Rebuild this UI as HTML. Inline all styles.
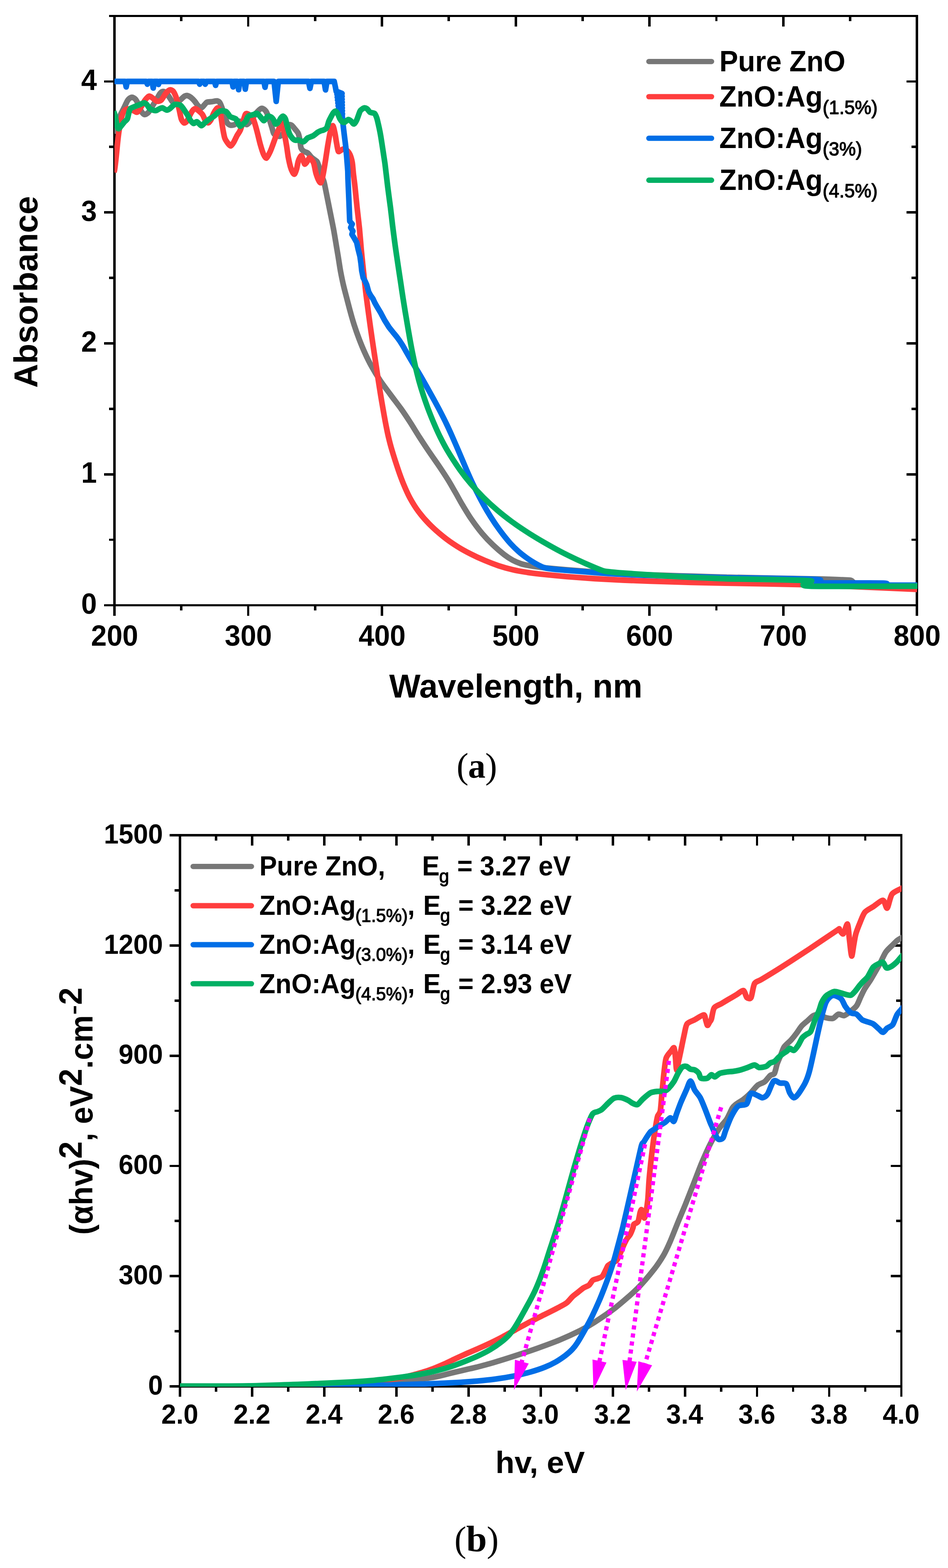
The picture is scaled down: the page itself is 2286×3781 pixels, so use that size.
<!DOCTYPE html>
<html lang="en">
<head>
<meta charset="utf-8">
<title>UV-Vis absorbance and Tauc plots of pure ZnO and ZnO:Ag</title>
<style>
html,body{margin:0;padding:0;background:#ffffff;}
body{width:2286px;height:3781px;overflow:hidden;}
svg{display:block;}
text{white-space:pre;}
</style>
</head>
<body>
<svg width="2286" height="3781" viewBox="0 0 2286 3781" role="img" aria-label="UV-Vis absorbance spectra and Tauc plots">
<rect width="2286" height="3781" fill="#ffffff"/>
<g id="chart-a">
<path d="M276 38.5H2211.2V1459.4H276ZM276 1459.4v25.3M276 38.5v25.3M598.5 1459.4v25.3M598.5 38.5v25.3M921.1 1459.4v25.3M921.1 38.5v25.3M1243.6 1459.4v25.3M1243.6 38.5v25.3M1566.1 1459.4v25.3M1566.1 38.5v25.3M1888.7 1459.4v25.3M1888.7 38.5v25.3M2211.2 1459.4v25.3M2211.2 38.5v25.3M437.3 1459.4v12.8M437.3 38.5v12.8M759.8 1459.4v12.8M759.8 38.5v12.8M1082.3 1459.4v12.8M1082.3 38.5v12.8M1404.9 1459.4v12.8M1404.9 38.5v12.8M1727.4 1459.4v12.8M1727.4 38.5v12.8M2049.9 1459.4v12.8M2049.9 38.5v12.8M276 1459.4h-25.3M2211.2 1459.4h-25.3M276 1143.6h-25.3M2211.2 1143.6h-25.3M276 827.9h-25.3M2211.2 827.9h-25.3M276 512.1h-25.3M2211.2 512.1h-25.3M276 196.4h-25.3M2211.2 196.4h-25.3M276 1301.5h-12.8M2211.2 1301.5h-12.8M276 985.8h-12.8M2211.2 985.8h-12.8M276 670h-12.8M2211.2 670h-12.8M276 354.3h-12.8M2211.2 354.3h-12.8M276 38.5h-12.8M2211.2 38.5h-12.8" fill="none" stroke="#000" stroke-width="5.8" stroke-linecap="butt" stroke-linejoin="miter" shape-rendering="crispEdges"/>
<clipPath id="clipA"><rect x="276" y="38.5" width="1936.2" height="1422.4"/></clipPath>
<g clip-path="url(#clipA)" fill="none" stroke-width="13.6" stroke-linejoin="round" stroke-linecap="butt">
<path d="M274.8 321.8C275.7 318.9 279.5 306.1 281.5 300.3C283.4 294.6 287 284.6 289.5 278.9C292 273.1 297.8 262.4 300.3 257.4C302.8 252.4 306 244.3 308.3 241.3C310.6 238.2 315.2 234.7 317.7 234.6C320.2 234.4 324.8 237.2 327.1 239.9C329.4 242.6 333.4 250.9 335.2 254.7C337 258.5 338.7 265.3 340.5 268.1C342.3 271 346.3 275.8 348.6 276.2C350.9 276.5 355.5 273.5 358 270.8C360.5 268.1 364.7 260.3 367.4 256C370.1 251.7 375.6 242.7 378.1 238.6C380.6 234.5 384.2 227.6 386.2 225.2C388.1 222.8 390.9 220.8 392.9 220.6C394.9 220.4 399 222.1 400.9 223.8C402.9 225.5 405.7 230.4 407.7 233.2C409.6 236.1 413.6 243.2 415.7 245.3C417.9 247.4 421.3 249.9 423.8 249.3C426.3 248.8 431.6 243.6 434.5 241.3C437.4 238.9 442.9 233.3 445.2 231.9C447.6 230.4 450 230.2 451.9 230.5C453.9 230.9 457.7 232.8 460 234.6C462.3 236.4 467.1 241.3 469.4 244C471.7 246.6 475.3 252.6 477.4 254.7C479.6 256.8 483.4 260.4 485.5 260.1C487.7 259.7 491.8 253.8 493.6 252C495.3 250.2 496.8 247.5 498.9 246.6C501.1 245.7 506.3 245.7 509.7 245.3C513.1 244.9 521.6 242.9 524.4 243.4C527.3 244 529.2 245.7 531.1 249.3C533.1 253 537 264.7 539.2 270.8C541.3 276.9 545.1 290.9 547.2 295C549.4 299.1 552.8 301 555.3 301.7C557.8 302.4 563.2 301.6 566 300.3C568.9 299.1 573.9 292.8 576.8 292.3C579.6 291.7 585 295.2 587.5 296.3C590 297.4 593.1 301.2 595.6 300.3C598.1 299.4 603.4 293.2 606.3 289.6C609.2 286 613.8 277.2 617 273.5C620.3 269.7 627.2 262.1 630.5 261.4C633.7 260.7 638.7 264.7 641.2 268.1C643.7 271.5 647.3 281.5 649.3 286.9C651.2 292.3 654.5 303.7 656 308.4C657.4 313 658.6 319.3 660 321.8C661.4 324.3 664.9 326.3 666.8 327.2C668.8 328.1 672.8 329.2 674.9 328.5C677 327.8 680.8 324.3 683 321.8C685.1 319.3 689 312.5 691 309.7C693 306.9 695.9 301.8 697.7 300.9C699.5 300 702.6 301.7 704.4 303C706.2 304.4 709.2 308.6 711.1 311.1C713.1 313.6 717.6 318.2 719.2 321.8C720.8 325.4 722.3 333.3 723.2 337.9C724.1 342.6 724.7 353.1 725.9 356.7C727.2 360.3 730.5 363.2 732.6 364.8C734.8 366.4 739.7 367 742 368.8C744.3 370.6 747.9 376 750.1 378.2C752.2 380.3 756.2 383.3 758.1 384.9C760.1 386.5 763.2 387.6 764.8 390.3C766.4 393 768.8 400.6 770.2 405C771.6 409.5 774.1 419.5 775.6 423.8C777 428.1 779.8 433.7 780.9 437.2C782 440.8 782.6 444.1 783.9 450.3C785.2 456.6 788.8 474.9 790.6 483.9C792.4 492.8 795.5 508.5 797.3 517.4C799.1 526.4 802.4 542.5 804 551C805.6 559.5 807.7 572.2 809.2 581.2C810.7 590.1 813.7 608.4 815.4 618.2C817 628 819.6 645.6 821.3 654.9C823.1 664.3 826.2 679.4 828.3 688.4C830.4 697.4 834.8 713.8 837 722.3C839.2 730.8 842.6 744 844.9 752.2C847.1 760.4 851.3 774.8 854 783.4C856.8 792.1 862.4 808.1 865.8 817C869.2 825.9 875.5 841.4 879.6 850.4C883.6 859.3 891.3 875 896.3 883.9C901.2 892.8 910.6 908.2 916.6 917.2C922.6 926.2 934.5 942 941.2 951.1C947.9 960.2 960.5 976.5 967 985.5C973.4 994.5 983.6 1009.8 989.3 1018.6C995 1027.5 1004.3 1042.9 1010 1051.8C1015.7 1060.7 1025.2 1075.3 1032 1085.3C1038.7 1095.3 1054.3 1117.4 1060.8 1127C1067.3 1136.7 1075.6 1149.4 1080.6 1157.4C1085.6 1165.4 1093.4 1179.3 1098 1187.2C1102.6 1195.2 1110 1208.9 1115 1217.3C1120.1 1225.7 1129.3 1241.2 1135.7 1250.5C1142.1 1259.8 1155.9 1278.4 1163 1286.9C1170.1 1295.4 1181.9 1307.6 1189 1314.3C1196.1 1321.1 1209.7 1332.7 1216 1337.5C1222.3 1342.4 1230.8 1347.8 1236.1 1350.7C1241.4 1353.6 1250.7 1357.4 1256 1359.2C1261.3 1360.9 1269.7 1362.7 1275.9 1363.8C1282.2 1365 1297.2 1367 1302.6 1367.7C1308.1 1368.5 1308.2 1368.6 1316.8 1369.4C1325.4 1370.3 1351.5 1372.7 1367.1 1374C1382.8 1375.3 1420.7 1378.2 1434.2 1379.3C1447.6 1380.3 1454.4 1381 1467.9 1381.8C1481.3 1382.6 1517 1384.5 1534.9 1385.2C1552.8 1385.9 1584.1 1386.8 1602 1387.4C1619.9 1387.9 1649.4 1388.8 1669.1 1389.4C1688.8 1390 1739.1 1391.5 1749.9 1391.8C1760.7 1392.2 1720.9 1391.4 1750 1391.9C1779.1 1392.5 1931 1395.2 1968.1 1396C2005.3 1396.8 2017.3 1397.5 2028.5 1398C2039.7 1398.4 2047.1 1398.2 2052 1399.3C2056.9 1400.5 2055.1 1405.6 2065.4 1406.7C2075.7 1407.8 2119.4 1406.8 2129.2 1407.4C2139 1408 2127.2 1410.8 2139.3 1411.4C2151.4 1412 2209.2 1411.7 2220 1411.7" stroke="#777777"/>
<path d="M274.8 415.8C275 414.7 275.9 412.7 276.6 407.7C277.4 402.7 279.1 387.5 280.1 378.2C281.1 368.9 283.1 347.2 284.2 337.9C285.2 328.6 286.9 315.9 288.2 308.4C289.4 300.9 292.1 286.9 293.6 281.5C295 276.2 297.1 270.6 298.9 268.1C300.7 265.6 304.7 263.3 307 262.8C309.3 262.2 314 263.4 316.4 264.1C318.7 264.8 322.5 267.3 324.4 268.1C326.4 268.9 329 271.7 331.1 270.3C333.3 268.8 338 261.2 340.5 257.4C343 253.5 347.4 244.7 349.9 241.3C352.4 237.9 357 232.6 359.3 231.9C361.7 231.2 364.9 234.3 367.4 235.9C369.9 237.5 375.3 243.2 378.1 244C381 244.7 386 243.8 388.9 241.3C391.7 238.8 397.3 228.2 399.6 225.2C401.9 222.1 404.7 219.6 406.3 218.5C407.9 217.3 410.1 216.2 411.7 216.6C413.3 216.9 416.6 218.6 418.4 221.1C420.2 223.7 423.3 230.4 425.1 235.9C426.9 241.5 430.2 256 431.8 262.8C433.4 269.6 435.6 282.4 437.2 286.9C438.8 291.4 442.1 295.6 443.9 296.3C445.7 297 448.6 295 450.6 292.3C452.6 289.6 456.7 279.8 458.7 276.2C460.6 272.6 463.6 267.3 465.4 265.4C467.2 263.6 470.1 261.9 472.1 262.2C474 262.6 478 266.3 480.1 268.1C482.3 270 486.2 273.3 488.2 276.2C490.2 279 493.1 286.9 494.9 289.6C496.7 292.3 499.8 296.3 501.6 296.3C503.4 296.3 506.5 292.6 508.3 289.6C510.1 286.6 513.2 277.1 515 273.5C516.8 269.9 520.3 264.5 521.7 262.8C523.2 261 524.5 259.5 525.8 260.6C527 261.7 529.7 264.8 531.1 270.8C532.6 276.8 535.1 297.5 536.5 305.7C537.9 313.9 540.1 327.2 541.9 332.6C543.7 337.9 548 343.4 549.9 346C551.9 348.6 554.9 352.2 556.6 351.9C558.4 351.5 561.4 346.6 563.4 343.3C565.3 340 569.3 331.1 571.4 327.2C573.6 323.2 577.5 318.4 579.5 313.8C581.4 309.1 584.6 297.3 586.2 292.3C587.8 287.3 590.3 278.6 591.5 276.2C592.8 273.7 594 273.7 595.6 274C597.2 274.4 601.5 276.8 603.6 278.9C605.8 280.9 609.5 284.6 611.7 289.6C613.8 294.6 617.6 308.6 619.7 316.4C621.9 324.3 625.6 341.1 627.8 348.7C629.9 356.2 633.9 368.5 635.8 372.8C637.8 377.2 640.6 382.1 642.6 381.4C644.5 380.7 648.9 371.1 650.7 367.4C652.5 363.8 654 359.8 656.1 354C658.3 348.3 664.3 330.9 666.8 324.5C669.4 318.1 673.1 309.5 674.9 305.7C676.7 301.9 678.8 294.2 680.3 296.3C681.7 298.5 684.2 314.5 685.6 321.8C687.1 329.1 689.8 343.8 691 351.3C692.3 358.9 693.8 371.4 695 378.2C696.3 385 699 397.3 700.4 402.3C701.8 407.4 704.4 413.4 705.8 415.8C707.1 418.1 709.1 420.9 710.3 419.8C711.6 418.7 714 411.8 715.2 407.7C716.3 403.6 718.1 392.7 719.2 388.9C720.3 385.2 722.1 381.3 723.2 379.5C724.3 377.7 726.2 374.6 727.2 375.5C728.3 376.4 730.3 383.6 731.3 386.2C732.2 388.9 733.4 394.9 734.5 395.6C735.6 396.4 737.8 393.6 739.3 391.6C740.9 389.6 744.4 381.8 746 380.9C747.7 380 750 383.1 751.4 384.9C752.8 386.7 755.3 389.8 756.8 394.3C758.2 398.8 760.5 412.9 762.1 418.5C763.8 424 767.2 433 768.9 435.9C770.5 438.8 772.8 442.3 774.2 439.9C775.7 437.6 778.2 425.6 779.6 418.5C781 411.3 783.5 395.2 785 386.2C786.4 377.3 788.9 359.9 790.3 351.3C791.8 342.8 794.1 328.3 795.7 321.8C797.3 315.4 800.8 303 802.4 303C804 303 806.5 316.1 807.8 321.8C809 327.5 810.7 340.2 811.8 346C812.9 351.7 814.4 362.6 815.8 364.8C817.3 366.9 820.9 362.8 822.6 362.1C824.2 361.4 826.1 359.4 827.9 359.4C829.7 359.4 833.8 360.3 836 362.1C838.1 363.9 842.2 368.9 844 372.8C845.8 376.8 848.3 385.5 849.4 391.6C850.5 397.7 851.2 410.6 852.1 418.5C853 426.3 854.8 439.4 856 450.3C857.2 461.3 859.6 487.2 861.1 500.7C862.5 514.1 865.4 537.6 866.8 551C868.1 564.4 869.9 587.9 871.1 601.3C872.4 614.8 874.8 638.3 876.2 651.7C877.6 665.1 880.4 690.8 881.7 702C883 713.1 884.6 724.7 886 735.6C887.4 746.5 891 772.7 892.5 783.5C894 794.4 896 808.2 897.3 817.1C898.6 826.1 901 841.7 902.3 850.7C903.7 859.6 906 875.3 907.4 884.2C908.7 893.2 911 908.8 912.4 917.8C913.8 926.7 916.2 942.4 917.7 951.3C919.2 960.3 921.8 976 923.4 984.9C925 993.9 927.7 1009.5 929.4 1018.4C931.2 1027.3 934.2 1043 936.3 1051.9C938.4 1060.8 941.8 1074.5 945.1 1085.3C948.3 1096.2 956.8 1122.6 960.5 1133.5C964.2 1144.4 969.2 1157.9 972.9 1166.8C976.6 1175.7 983.4 1191.3 988.2 1200.2C993 1209 1002.6 1224.7 1008.9 1233.1C1015.1 1241.6 1027.1 1255.5 1035.1 1263.6C1043 1271.7 1059.7 1286.5 1068.6 1293.6C1077.5 1300.8 1093 1311.6 1101.9 1317.2C1110.8 1322.9 1126.3 1331.4 1135.2 1335.9C1144.1 1340.5 1159.7 1347.6 1168.6 1351.3C1177.6 1355.1 1193.4 1361.2 1202.3 1364.2C1211.3 1367.2 1226.9 1371.5 1235.8 1373.6C1244.7 1375.7 1260.2 1378.5 1269.2 1379.9C1278.1 1381.3 1289.7 1382.8 1302.7 1384.2C1315.8 1385.6 1349.6 1388.9 1367.1 1390.4C1384.7 1391.9 1416.4 1394.2 1434.3 1395.4C1452.1 1396.5 1483.5 1398.1 1501.4 1398.9C1519.2 1399.7 1550.6 1400.8 1568.5 1401.4C1586.4 1402 1617.7 1403 1635.6 1403.5C1653.5 1404 1687.4 1404.9 1702.7 1405.2C1717.9 1405.6 1717.7 1405.5 1750 1406.1C1782.3 1406.7 1906.1 1409 1944.6 1410C1983.1 1411 2003 1412.3 2038.6 1413.8C2074.2 1415.2 2188.4 1420.2 2211.4 1421.1" stroke="#ff3e3e"/>
<path d="M270.7 196.4L301.6 196.4L304.3 209.6L307 196.4L352.6 196.4L355.3 202.9L358 196.4L366.8 196.4L369.5 212.3L372.2 196.4L379.5 196.4L382.1 203.7L384.8 196.4L478.8 196.4L481.5 202.9L484.2 196.4L492.2 196.4L494.9 202.9L497.6 196.4L517.2 196.4L519.9 205.8L522.6 196.4L559.3 196.4L562 209.6L564.7 196.4L572.8 196.4L575.4 216.3L578.1 196.4L588.9 196.4L591.5 215L594.2 196.4L636.4 196.4L639.1 210.4L641.7 196.4L660.9 196.4L666 244.5L671.1 196.4L743.9 196.4L747.4 213.1L750.9 196.4L781.5 196.4L785 216.8L788.5 196.4L805.9 196.4L808.6 209.1L810.7 220.3L811.8 220.3L824.8 225.4L812.6 227.3L824.9 232.4L813.3 234.3L825 239.4L814 241.3L825.2 246.4L814.8 248.3L825.3 253.4L815.5 255.2L825.4 260.3L816.2 262.2L825.6 267.3L817 269.2L825.7 274.3L825.2 278.9L826.8 295L828.5 311.1L831.1 332.6L833.8 354L836 378.2L838.7 413.1L839.1 431.2L841.3 482.3L843 524.9L843.4 533.5L849.3 540.3L845.6 548.8L851 557.3L848.6 565L855.3 576.1L860.1 584.6L863.8 601.7L868.1 618.7L870.5 635.8L872.3 652.8L875.8 669.9L880.5 678.4L884.3 686.9L889.1 704L893.7 712.5L899.6 721L903.5 729.5L908.2 738.1L918.4 755.1L927.4 772.2L937.7 788.5C940.4 792.3 944.6 797.3 947.3 800.7C949.9 804 954.8 809.6 957.8 813.7C960.9 817.7 967.1 826.8 969.9 831.3C972.7 835.7 975.5 841.1 978.8 846.9C982.1 852.6 990.3 866.9 994.6 874.2C998.9 881.4 1006.6 893.6 1011 901.2C1015.5 908.8 1023.7 923.2 1028.2 931.2C1032.7 939.2 1040.5 953.3 1045 961.4C1049.4 969.5 1057.2 983.7 1061.4 991.8C1065.6 999.9 1072.7 1013.9 1076.5 1022C1080.4 1030 1086.5 1043.5 1090.3 1052C1094.1 1060.5 1100.3 1074.9 1105 1085.7C1109.7 1096.6 1120.5 1122.6 1125.2 1133.4C1129.9 1144.2 1136 1158 1140.3 1167C1144.5 1175.9 1152.6 1192 1157.1 1200.5C1161.5 1209 1169.1 1222.7 1173.8 1230.7C1178.5 1238.7 1187.5 1253 1192.6 1260.6C1197.7 1268.2 1207.1 1281.2 1212.2 1287.9C1217.3 1294.5 1225.7 1304.9 1230.8 1310.5C1235.9 1316.1 1245.2 1325.2 1250.5 1329.9C1255.8 1334.6 1265.4 1341.9 1270.8 1345.7C1276.1 1349.5 1285.7 1355.5 1290.5 1358.3C1295.4 1361.1 1303.6 1365.3 1307.2 1366.9C1310.9 1368.5 1312.4 1369.3 1318.2 1370.2C1324 1371.1 1341.1 1373.1 1350.8 1374C1360.5 1374.9 1380.4 1376.4 1391.1 1377.2C1401.8 1378.1 1421 1379.7 1431.3 1380.5C1441.5 1381.3 1454 1382.4 1467.8 1383.2C1481.7 1384 1517 1385.8 1534.9 1386.5C1552.8 1387.3 1584.1 1388.2 1602 1388.7C1619.9 1389.3 1649.4 1390.1 1669.1 1390.7C1688.9 1391.3 1739.2 1392.7 1749.9 1393C1760.7 1393.3 1720.9 1392.4 1750 1393C1779.1 1393.5 1938.1 1395.3 1968.1 1397C1998.1 1398.6 1953.4 1404.2 1974.8 1405.4C1996.3 1406.6 2107.3 1405.3 2129.2 1406C2151.1 1406.8 2128.3 1410.1 2139.3 1410.7C2150.2 1411.4 2201.8 1411 2211.4 1411.1" stroke="#006ee6"/>
<path d="M274 268.1C274.3 269.1 275.9 272.6 276.6 275.6C277.4 278.7 279 286.9 279.9 290.9C280.7 294.9 282.2 303.1 283.1 305.7C283.9 308.3 285.1 310.6 286.3 310.3C287.5 310 290.4 305.8 292.2 303.6C294.1 301.3 298.3 295.8 300.3 293.6C302.2 291.4 305.5 290 307 286.9C308.4 283.9 309.9 274.2 311 270.8C312.1 267.4 312.9 263.4 315 261.4C317.2 259.4 324.1 257.3 327.1 256C330.2 254.8 335.2 253.1 337.9 252C340.5 250.9 345.1 248 347.2 248C349.4 248 352 250 354 252C355.9 254 359.1 260.8 362 262.8C364.9 264.7 372.6 266.8 375.4 266.8C378.3 266.8 381.3 263.6 383.5 262.8C385.6 261.9 389 259.7 391.5 260.1C394 260.4 399.8 265.3 402.3 265.4C404.8 265.6 407.8 263.2 410.3 261.4C412.8 259.6 417.9 253.1 421.1 252C424.3 250.9 431.6 251.9 434.5 253.4C437.4 254.8 440.8 260.4 442.6 262.8C444.3 265.1 446.3 268.3 447.9 270.8C449.5 273.3 453.2 279 454.6 281.5C456.1 284 457 287.4 458.7 289.6C460.3 291.7 464.6 297.1 466.7 297.7C468.9 298.2 472.3 292.9 474.8 293.6C477.3 294.3 483 302.7 485.5 303C488 303.4 491.4 298.1 493.6 296.3C495.7 294.5 499.5 291.2 501.6 289.6C503.8 288 507.5 285.7 509.7 284.2C511.8 282.8 515.7 280.5 517.7 278.9C519.7 277.2 522.6 273.7 524.4 272.1C526.2 270.6 528.5 268 531.1 267.6C533.8 267.1 541.9 267.5 544.6 268.7C547.2 269.8 549.8 274.5 551.3 276.2C552.7 277.9 553 280.1 555.3 281.5C557.6 283 566.2 284.9 568.7 286.9C571.2 288.9 572.7 294 574.1 296.3C575.5 298.6 577.7 304.2 579.5 304.4C581.3 304.5 585.7 299.3 587.5 297.7C589.3 296 591.6 294.3 592.9 292.3C594.1 290.3 595.8 284.7 596.9 282.9C598 281.1 599 279.8 600.9 278.9C602.9 278 609.2 276.9 611.7 276.2C614.2 275.5 617.6 272.8 619.7 273.5C621.9 274.2 625.6 279.2 627.8 281.5C629.9 283.9 634 290.4 635.8 290.9C637.6 291.5 639.8 287 641.2 285.6C642.6 284.1 644.8 280.6 646.6 280.2C648.4 279.8 652.8 281.6 654.6 282.9C656.4 284.1 658.7 287.4 660 289.6C661.3 291.7 662.7 298.3 664.2 299C665.6 299.7 669.1 296.9 670.9 295C672.7 293 676 286.2 677.6 284.2C679.2 282.3 681.5 279.8 683 280.2C684.4 280.6 687.1 283.9 688.3 286.9C689.6 290 691.1 298.4 692.3 303C693.6 307.7 696.1 317.9 697.7 321.8C699.3 325.7 702.6 330.4 704.4 332.6C706.2 334.7 709 337.2 711.1 337.9C713.3 338.6 717.9 337.4 720.5 337.9C723.2 338.5 728.9 342.1 731.3 341.9C733.6 341.8 736.6 337.8 738 336.6C739.4 335.3 739.7 333.8 742 332.6C744.3 331.3 752.2 329 755.4 327.2C758.7 325.4 763.7 320.7 766.2 319.1C768.7 317.5 772.4 315.8 774.2 315.1C776 314.4 777.8 314.7 779.6 313.8C781.4 312.9 785.9 311.3 787.7 308.4C789.4 305.5 791.6 295.9 793 292.3C794.5 288.7 797 284.2 798.4 281.5C799.8 278.9 802.3 273.9 803.8 272.1C805.2 270.4 807.7 267.8 809.1 268.1C810.6 268.5 813.1 272.3 814.5 274.8C815.9 277.3 818.4 284.4 819.9 286.9C821.3 289.4 823.8 292.6 825.2 293.6C826.7 294.7 828.6 295.7 830.6 295C832.6 294.3 837.9 288.6 840 288.3C842.1 287.9 844.9 290.9 846.7 292.3C848.5 293.7 851.6 299.4 853.4 299C855.2 298.6 858.2 293.7 860.1 289.6C862.1 285.5 866.4 271.7 868.2 268.1C870 264.5 872.1 263.8 873.6 262.8C875 261.7 877.3 260.1 878.9 260.1C880.5 260.1 883.8 261.3 885.6 262.8C887.4 264.2 890 269.4 892.3 270.8C894.7 272.2 900.9 271.7 903.1 273.5C905.2 275.3 907.2 280.6 908.5 284.2C909.7 287.8 911.4 295.7 912.5 300.3C913.6 305 915.4 313.4 916.5 319.1C917.6 324.9 919.5 336.5 920.5 343.3C921.6 350.1 923.5 363 924.6 370.1C925.6 377.3 927.2 386.3 928.6 397C930 407.7 933.2 436.5 934.9 450.3C936.6 464.2 940 488.1 941.6 500.7C943.2 513.2 945.4 533.1 946.7 544.3C948.1 555.5 950.6 574.7 951.9 584.5C953.2 594.4 955.4 609.2 956.7 618.1C958 627.1 960.4 642.7 961.7 651.7C963.1 660.6 965.4 676.3 966.8 685.2C968.1 694.2 970.4 709.9 971.8 718.8C973.2 727.7 975.8 743.6 977.2 752.3C978.6 760.9 981.1 775 982.5 783.6C984 792.2 986.7 808.1 988.3 817C989.9 826 992.8 841.7 994.6 850.7C996.4 859.6 999.7 875.2 1001.7 884.1C1003.8 893.1 1007.7 908.7 1010.1 917.7C1012.6 926.6 1017.3 942.3 1020.2 951.2C1023.1 960.2 1028.6 975.8 1031.9 984.8C1035.3 993.7 1041.5 1009.4 1045.3 1018.3C1049.1 1027.3 1056.1 1043 1060.4 1051.9C1064.8 1060.7 1071.5 1074.1 1078 1084.9C1084.4 1095.7 1101.4 1121.9 1109 1132.9C1116.7 1143.8 1127.8 1157.8 1135.4 1166.7C1143 1175.6 1157.4 1191.3 1165.9 1199.8C1174.4 1208.3 1190.1 1222.7 1199.1 1230.3C1208.1 1238 1223.9 1250.4 1233.4 1257.4C1243 1264.4 1260.5 1276.3 1270.7 1282.9C1281 1289.6 1299.8 1300.9 1310.5 1307.2C1321.3 1313.4 1340.5 1324.2 1351.3 1329.8C1362 1335.4 1380.5 1344.4 1391.2 1349.4C1401.8 1354.4 1423.3 1363.9 1431.4 1367.3C1439.5 1370.8 1448.1 1374.1 1452.1 1375.6C1456.2 1377 1456.8 1377.2 1462.1 1377.9C1467.4 1378.6 1482.7 1380.1 1491.7 1380.9C1500.8 1381.6 1515.3 1382.7 1530 1383.7C1544.7 1384.8 1583.5 1387.5 1602 1388.6C1620.6 1389.8 1651.2 1391.4 1669.1 1392.2C1687 1393.1 1725.5 1394.6 1736.2 1395.1C1747 1395.5 1722.2 1395 1750 1395.6C1777.8 1396.2 1918.1 1398.5 1944.6 1399.7C1971.1 1400.8 1947.5 1402.2 1948.7 1404C1949.8 1405.9 1918 1412.2 1953 1413.4C1988.1 1414.7 2175.8 1413.4 2211.4 1413.4C2247 1413.4 2218.7 1413.4 2219.8 1413.4" stroke="#00b064"/>
</g>
<g font-family='"Liberation Sans", Arial, Helvetica, sans-serif' font-weight="bold" font-size="68" fill="#000">
<g text-anchor="middle">
<text x="276.3" y="1557.3" transform="matrix(1 0 0 1.04 0 -62.292)">200</text>
<text x="598.8" y="1557.3" transform="matrix(1 0 0 1.04 0 -62.292)">300</text>
<text x="921.4" y="1557.3" transform="matrix(1 0 0 1.04 0 -62.292)">400</text>
<text x="1243.9" y="1557.3" transform="matrix(1 0 0 1.04 0 -62.292)">500</text>
<text x="1566.4" y="1557.3" transform="matrix(1 0 0 1.04 0 -62.292)">600</text>
<text x="1889" y="1557.3" transform="matrix(1 0 0 1.04 0 -62.292)">700</text>
<text x="2211.5" y="1557.3" transform="matrix(1 0 0 1.04 0 -62.292)">800</text>
</g><g text-anchor="end">
<text x="233.5" y="1480" transform="matrix(1 0 0 1.04 0 -59.2)">0</text>
<text x="233.5" y="1164.2" transform="matrix(1 0 0 1.04 0 -46.5698)">1</text>
<text x="233.5" y="848.5" transform="matrix(1 0 0 1.04 0 -33.9396)">2</text>
<text x="233.5" y="532.7" transform="matrix(1 0 0 1.04 0 -21.3093)">3</text>
<text x="233.5" y="217" transform="matrix(1 0 0 1.04 0 -8.6791)">4</text>
</g></g>
<text x="1243.8" y="1682.3" text-anchor="middle" font-family='"Liberation Sans", Arial, Helvetica, sans-serif' font-weight="bold" font-size="80">Wavelength, nm</text>
<text transform="translate(89.5 704) rotate(-90)" text-anchor="middle" font-family='"Liberation Sans", Arial, Helvetica, sans-serif' font-weight="bold" font-size="80">Absorbance</text>
<g fill="none" stroke-width="12.8" stroke-linecap="round">
<path d="M1564.7 148.3H1715.8" stroke="#777777"/>
<path d="M1564.7 233.1H1715.8" stroke="#ff3e3e"/>
<path d="M1564.7 333.4H1715.8" stroke="#006ee6"/>
<path d="M1564.7 434.5H1715.8" stroke="#00b064"/>
</g>
<g font-family='"Liberation Sans", Arial, Helvetica, sans-serif' font-weight="bold" font-size="68" fill="#000">
<text x="1734.8" y="172.1" font-size="67.5" transform="matrix(1 0 0 1.04 0 -6.884)">Pure ZnO</text>
<text x="1734.6" y="257.2" transform="matrix(1 0 0 1.04 0 -10.288)">ZnO:Ag<tspan font-size="45" font-weight="normal" stroke="#000" stroke-width="1.5" stroke-linejoin="round" dy="17.6">(1.5%)</tspan></text>
<text x="1734.6" y="357" transform="matrix(1 0 0 1.04 0 -14.28)">ZnO:Ag<tspan font-size="45" font-weight="normal" stroke="#000" stroke-width="1.5" stroke-linejoin="round" dy="17.6">(3%)</tspan></text>
<text x="1734.6" y="457.6" transform="matrix(1 0 0 1.04 0 -18.304)">ZnO:Ag<tspan font-size="45" font-weight="normal" stroke="#000" stroke-width="1.5" stroke-linejoin="round" dy="17.6">(4.5%)</tspan></text>
</g>
</g>
<g font-family='"Liberation Serif", "Times New Roman", serif' fill="#000"><text y="1875.6" font-size="86.3"><tspan x="1100.9">(</tspan><tspan x="1128.8" dy="-0.8" font-size="84" font-weight="bold">a</tspan><tspan x="1169.9" dy="0.8">)</tspan></text></g>
<g id="chart-b">
<path d="M434.1 2014H2173.4V3343H434.1ZM434.1 3343v25.3M434.1 2014v25.3M608 3343v25.3M608 2014v25.3M782 3343v25.3M782 2014v25.3M955.9 3343v25.3M955.9 2014v25.3M1129.8 3343v25.3M1129.8 2014v25.3M1303.8 3343v25.3M1303.8 2014v25.3M1477.7 3343v25.3M1477.7 2014v25.3M1651.6 3343v25.3M1651.6 2014v25.3M1825.5 3343v25.3M1825.5 2014v25.3M1999.5 3343v25.3M1999.5 2014v25.3M2173.4 3343v25.3M2173.4 2014v25.3M521.1 3343v12.8M521.1 2014v12.8M695 3343v12.8M695 2014v12.8M868.9 3343v12.8M868.9 2014v12.8M1042.9 3343v12.8M1042.9 2014v12.8M1216.8 3343v12.8M1216.8 2014v12.8M1390.7 3343v12.8M1390.7 2014v12.8M1564.6 3343v12.8M1564.6 2014v12.8M1738.6 3343v12.8M1738.6 2014v12.8M1912.5 3343v12.8M1912.5 2014v12.8M2086.4 3343v12.8M2086.4 2014v12.8M434.1 3343h-25.3M2173.4 3343h-25.3M434.1 3077.2h-25.3M2173.4 3077.2h-25.3M434.1 2811.4h-25.3M2173.4 2811.4h-25.3M434.1 2545.6h-25.3M2173.4 2545.6h-25.3M434.1 2279.8h-25.3M2173.4 2279.8h-25.3M434.1 2014h-25.3M2173.4 2014h-25.3M434.1 3210.1h-12.8M2173.4 3210.1h-12.8M434.1 2944.3h-12.8M2173.4 2944.3h-12.8M434.1 2678.5h-12.8M2173.4 2678.5h-12.8M434.1 2412.7h-12.8M2173.4 2412.7h-12.8M434.1 2146.9h-12.8M2173.4 2146.9h-12.8" fill="none" stroke="#000" stroke-width="5.8" stroke-linecap="butt" stroke-linejoin="miter" shape-rendering="crispEdges"/>
<clipPath id="clipB"><rect x="434.1" y="2014" width="1739.9" height="1330"/></clipPath>
<g clip-path="url(#clipB)" fill="none" stroke-width="13.6" stroke-linejoin="round" stroke-linecap="butt">
<path d="M425 3342.8C448.3 3342.8 556.5 3343.3 600 3343C643.5 3342.6 718.8 3340.9 751 3340.1C783.2 3339.4 821.5 3338.2 841.6 3337.6C861.7 3336.9 887.6 3335.8 902 3335C916.5 3334.3 934.6 3333.2 949.9 3331.9C965.3 3330.7 1004.5 3326.8 1017 3325.3C1029.6 3323.9 1036.7 3322.5 1043.9 3321.2C1051 3319.9 1063.6 3317 1070.7 3315.3C1077.9 3313.6 1090.5 3310.3 1097.7 3308.6C1104.9 3306.9 1117.6 3304 1124.6 3302.4C1131.5 3300.8 1140.8 3298.9 1149.8 3296.6C1158.8 3294.2 1179.6 3288.7 1192.2 3284.9C1204.9 3281.2 1230.7 3273.1 1244.6 3268.5C1258.6 3264 1283 3255.9 1296.9 3250.9C1310.8 3245.9 1335.4 3237 1349.1 3231.3C1362.7 3225.6 1388 3214 1399.2 3208.4C1410.4 3202.7 1421.6 3196.2 1433.2 3188.7C1444.7 3181.2 1471.6 3163.2 1485.6 3152.1C1499.6 3141.1 1525.9 3118.2 1538.2 3105.9C1550.5 3093.6 1569.7 3070.4 1578 3059.8C1586.3 3049.2 1595.3 3035.1 1600.3 3026.5C1605.3 3017.9 1611.1 3005.2 1615.4 2995.3C1619.7 2985.5 1627.6 2965 1632.6 2952.8C1637.5 2940.6 1647.3 2917.7 1652.9 2904C1658.4 2890.3 1668.8 2863.7 1674.1 2850.2C1679.4 2836.7 1687.4 2815 1692.6 2802.9C1697.7 2790.7 1706.9 2770.1 1712.4 2759.2C1717.9 2748.4 1728.6 2729.7 1733.9 2721.6C1739.2 2713.6 1748.1 2705.6 1752.3 2699C1756.6 2692.4 1763 2676.8 1765.8 2672.1C1768.6 2667.4 1769.8 2666.7 1773.5 2663.8C1777.2 2660.9 1788.7 2654.1 1793.6 2650.3C1798.5 2646.5 1805.9 2639.7 1810.4 2635.2C1814.9 2630.8 1822.7 2620.4 1827.2 2616.8C1831.7 2613.2 1839.9 2611.5 1844 2608.4C1848 2605.3 1854.3 2596 1857.4 2593.3C1860.5 2590.6 1865.2 2592.1 1867.4 2588.3C1869.7 2584.5 1872.1 2570.6 1874.2 2564.8C1876.2 2558.9 1880.3 2550 1882.6 2544.6C1884.8 2539.3 1887.6 2529.4 1890.9 2524.5C1894.3 2519.6 1903.7 2512.2 1907.7 2507.7C1911.7 2503.2 1917.8 2495.4 1921.1 2490.9C1924.5 2486.5 1929.3 2478.2 1932.9 2474.2C1936.5 2470.1 1944.2 2464.1 1948 2460.7C1951.8 2457.4 1957.8 2450.8 1961.4 2449C1965 2447.2 1970.8 2446.6 1974.8 2447.3C1978.9 2448 1987.1 2452.9 1991.6 2454C1996.1 2455.1 2004.4 2456.8 2008.4 2455.7C2012.4 2454.6 2018.2 2446.5 2021.8 2445.6C2025.4 2444.7 2031.7 2449.7 2035.2 2449C2038.8 2448.3 2044.6 2443.7 2048.7 2440.6C2052.7 2437.5 2061.9 2430.4 2065.4 2425.5C2069 2420.6 2072.8 2409.3 2075.5 2403.7C2078.2 2398.1 2082.4 2388.9 2085.6 2383.6C2088.7 2378.2 2096.1 2368 2099 2363.4C2101.9 2358.8 2104.3 2354.3 2107.4 2349C2110.4 2343.7 2118 2330.9 2121.8 2323.8C2125.6 2316.8 2131.8 2302 2135.9 2296C2140 2289.9 2149.1 2282.2 2152.7 2278.5C2156.3 2274.9 2160 2270.7 2162.8 2268.5C2165.5 2266.2 2170.8 2263.3 2173.5 2261.7C2176.2 2260.2 2181.6 2257.4 2182.9 2256.7" stroke="#777777"/>
<path d="M425 3342.6C448.3 3342.6 556.5 3343.2 600 3342.7C643.5 3342.1 718.8 3339.6 751 3338.5C783.2 3337.5 821.5 3335.6 841.6 3334.5C861.7 3333.4 887.6 3331.7 902 3330.4C916.4 3329.1 939 3326.6 949.9 3325.1C960.7 3323.5 974.5 3320.8 983.4 3318.7C992.4 3316.7 1008.9 3312 1017 3309.6C1025 3307.2 1036.7 3303.2 1043.9 3300.5C1051 3297.8 1063.2 3292.6 1070.4 3289.4C1077.7 3286.2 1090.7 3279.8 1097.9 3276.4C1105.1 3273.1 1117.5 3267.4 1124.5 3264.3C1131.4 3261.2 1143.3 3256.2 1150 3253.2C1156.7 3250.3 1166.8 3246 1174.7 3242.2C1182.7 3238.4 1200.1 3229.9 1209.5 3225C1218.8 3220.1 1235.4 3210.7 1244.8 3205.5C1254.2 3200.4 1270.6 3191.3 1279.9 3186.4C1289.2 3181.6 1305.2 3173.8 1314.5 3169.2C1323.7 3164.6 1342 3155.4 1349 3151.7C1356 3148 1362.7 3144.6 1366.8 3141.3C1371 3138.1 1376.5 3130.5 1380 3127.2C1383.5 3123.9 1389.8 3119.3 1393.4 3116.4C1397 3113.6 1403.3 3108 1406.8 3105.7C1410.4 3103.4 1417.2 3101.5 1420.3 3099C1423.3 3096.5 1426.8 3089.1 1429.7 3086.9C1432.5 3084.8 1438.7 3084.1 1441.7 3082.9C1444.8 3081.6 1450 3080.2 1452.5 3077.5C1455 3074.8 1458.7 3066.2 1460.5 3062.8C1462.3 3059.4 1464.1 3054.2 1465.9 3052C1467.7 3049.9 1471.1 3048.4 1474 3046.6C1476.8 3044.9 1484.5 3041.8 1487.4 3038.6C1490.2 3035.4 1493.3 3027.1 1495.4 3022.5C1497.6 3017.8 1501.3 3008.3 1503.5 3003.7C1505.6 2999 1509.4 2991.2 1511.5 2987.6C1513.7 2984 1517.6 2980.4 1519.6 2976.8C1521.6 2973.3 1525.1 2964 1526.3 2960.7C1527.5 2957.4 1526.9 2954.2 1528.5 2952.2C1530.2 2950.1 1536.6 2949.3 1538.6 2945.5C1540.6 2941.7 1542.5 2927.5 1543.6 2923.7C1544.7 2919.9 1546.1 2916.5 1547 2916.9C1547.9 2917.4 1549.4 2924.3 1550.3 2927C1551.2 2929.7 1552.8 2937.1 1553.7 2937.1C1554.6 2937.1 1555.9 2932.8 1557 2927C1558.2 2921.2 1561 2904.6 1562.1 2893.5C1563.2 2882.3 1564.3 2856.5 1565.4 2843.1C1566.6 2829.7 1569.1 2804.9 1570.5 2792.8C1571.8 2780.7 1574.2 2762.4 1575.5 2752.5C1576.8 2742.7 1579.2 2727 1580.5 2719C1581.9 2710.9 1584 2697.5 1585.6 2692.1C1587.1 2686.7 1590.9 2686.3 1592.3 2678.7C1593.7 2671.1 1595.1 2647.7 1596.3 2635.2C1597.5 2622.7 1600 2596.1 1601.3 2584.9C1602.7 2573.7 1604.1 2558.1 1606.4 2551.3C1608.6 2544.6 1615.6 2537.8 1618.1 2534.6C1620.7 2531.3 1624.1 2524.6 1625.5 2526.8C1626.9 2529.1 1628.1 2544.3 1628.9 2551.3C1629.7 2558.4 1630.5 2579 1631.5 2579.9C1632.6 2580.8 1635.2 2564.1 1636.6 2558.1C1637.9 2552 1639.8 2543.1 1641.6 2534.6C1643.4 2526.1 1648 2503 1650 2494.3C1652 2485.6 1653.4 2473.8 1656.7 2469.1C1660.1 2464.4 1669.8 2462 1675.2 2459.1C1680.5 2456.2 1693.4 2447.1 1697 2447.3C1700.6 2447.5 1700.8 2457.4 1702 2460.7C1703.2 2464.1 1704.8 2472 1706 2472.5C1707.3 2472.9 1710.2 2466.1 1711.4 2464.1C1712.7 2462.1 1714 2461.9 1715.4 2457.4C1716.9 2452.9 1719 2435.5 1722.1 2430.5C1725.3 2425.6 1734.5 2423.2 1738.9 2420.5C1743.4 2417.8 1750.8 2413.3 1755.7 2410.4C1760.6 2407.5 1770.9 2401.6 1775.8 2398.7C1780.8 2395.7 1789.3 2387.7 1792.6 2388.6C1796 2389.5 1798.5 2403.1 1801 2405.4C1803.5 2407.6 1808.6 2409.8 1811.1 2405.4C1813.5 2400.9 1816.1 2377.6 1819.5 2371.8C1822.8 2366 1827.6 2367 1836.2 2361.7C1844.9 2356.5 1868.9 2342 1884.2 2332.2C1899.6 2322.5 1933.4 2300.4 1951.3 2288.6C1969.2 2276.7 2008.8 2249.6 2018.5 2243.3C2028.1 2237 2021.5 2240.5 2023.5 2241.6C2025.5 2242.7 2030.9 2253.5 2033.6 2251.7C2036.2 2249.9 2041.6 2226 2043.6 2228.2C2045.6 2230.4 2047.3 2258.2 2048.7 2268.5C2050 2278.7 2052.3 2304 2053.7 2305.4C2055 2306.7 2057.4 2285.7 2058.7 2278.5C2060.1 2271.4 2061.7 2258.8 2063.8 2251.7C2065.8 2244.5 2070.9 2231.8 2073.8 2224.8C2076.7 2217.9 2081.3 2204.8 2085.6 2199.7C2089.8 2194.5 2099.9 2190 2105.7 2186.2C2111.5 2182.4 2124.7 2170.7 2129.2 2171.1C2133.7 2171.6 2136.4 2191.6 2139.3 2189.6C2142.2 2187.6 2146.4 2162.3 2151 2156C2155.6 2149.8 2169.2 2145.2 2173.5 2142.6C2177.7 2140.1 2181.6 2137.7 2182.9 2136.9" stroke="#ff3e3e"/>
<path d="M425 3343C448.3 3343.1 556.5 3343.6 600 3343.6C643.5 3343.5 710.7 3342.9 751 3342.5C791.3 3342.1 875.5 3341 902 3340.6C928.6 3340.2 932.9 3340.1 950 3339.6C967.1 3339.1 1014.4 3337.5 1030.5 3337C1046.6 3336.4 1060.1 3335.8 1070.8 3335.3C1081.5 3334.8 1100.5 3333.8 1111.1 3333.2C1121.6 3332.5 1139.2 3331.3 1150 3330.3C1160.8 3329.3 1180.4 3327.4 1192.3 3325.8C1204.2 3324.1 1227.6 3320.4 1239.2 3318.1C1250.8 3315.7 1269.5 3311.1 1279.5 3308.2C1289.5 3305.3 1305.9 3299.9 1314 3296.6C1322.1 3293.4 1333.7 3287.8 1340.2 3284.1C1346.7 3280.4 1357.5 3273 1362.9 3269C1368.2 3264.9 1376.3 3257.7 1380.1 3253.6C1384 3249.5 1387.6 3245.2 1391.9 3238.4C1396.3 3231.5 1408 3211.1 1412.7 3202.6C1417.4 3194.2 1423 3183.6 1427.3 3175C1431.5 3166.3 1440.3 3147.1 1444.3 3137.9C1448.4 3128.6 1453.8 3114.8 1457.4 3105.5C1461 3096.2 1467.9 3077.4 1471.1 3068.1C1474.3 3058.7 1478.9 3044.3 1481.4 3035.7C1483.9 3027.1 1488 3011.5 1490.1 3003.7C1492.2 2995.9 1495.6 2983.1 1497.2 2977C1498.8 2970.8 1499.2 2970.2 1502.2 2957.7C1505.2 2945.1 1515 2902.1 1519.4 2882.8C1523.8 2863.5 1531.6 2829 1535.2 2812.9C1538.9 2796.8 1544.8 2769.7 1547 2761.9C1549.3 2754.1 1550.2 2757 1552 2754.2C1553.8 2751.4 1558.2 2744.1 1560.4 2740.8C1562.6 2737.4 1566.3 2731.5 1568.8 2729C1571.3 2726.6 1576.3 2724.1 1578.9 2722.3C1581.4 2720.5 1584.5 2718 1587.9 2715.8C1591.4 2713.6 1600.9 2708.4 1604.7 2705.7C1608.5 2703 1613.8 2695.9 1616.4 2695.6C1619.1 2695.4 1622.8 2705.4 1624.8 2704C1626.8 2702.7 1629.3 2691.6 1631.5 2685.6C1633.8 2679.5 1638.5 2666.3 1641.6 2658.7C1644.7 2651.1 1651.9 2635.5 1655 2628.5C1658.2 2621.6 1662.4 2606.7 1665.1 2606.7C1667.8 2606.7 1672 2623.2 1675.2 2628.5C1678.3 2633.9 1685 2640.3 1688.6 2647C1692.2 2653.7 1698.9 2671 1702 2678.9C1705.1 2686.7 1710.2 2700.8 1712.1 2705.7C1714 2710.6 1714.5 2711.2 1716.4 2715.6C1718.4 2720.1 1724.3 2734.8 1726.5 2739.1C1728.7 2743.3 1731 2746.8 1733.2 2747.5C1735.5 2748.2 1741.1 2747.1 1743.3 2744.1C1745.5 2741.2 1747.3 2732.1 1750 2725.2C1752.7 2718.3 1759.4 2700 1763.4 2692.3C1767.4 2684.5 1775.3 2671.1 1780.2 2667.1C1785.1 2663.1 1796.3 2666.1 1800.3 2662.1C1804.4 2658.1 1806.8 2639.6 1810.4 2636.9C1814 2634.2 1823.4 2640.6 1827.2 2641.9C1831 2643.3 1835.8 2647.4 1838.9 2647C1842.1 2646.5 1847.1 2644 1850.7 2638.6C1854.3 2633.2 1861.7 2610.3 1865.8 2606.7C1869.8 2603.1 1876.8 2610.9 1880.9 2611.7C1884.9 2612.6 1892.8 2610.3 1896 2613.4C1899.1 2616.6 1901.9 2630.8 1904.4 2635.2C1906.8 2639.7 1911.7 2646.5 1914.4 2647C1917.1 2647.4 1920.9 2643.3 1924.5 2638.6C1928.1 2633.9 1937.7 2618.9 1941.3 2611.7C1944.9 2604.6 1948.7 2594.3 1951.3 2584.9C1954 2575.5 1958.7 2553.4 1961.4 2541.3C1964.1 2529.2 1968.8 2506.4 1971.5 2494.3C1974.2 2482.2 1978.9 2461 1981.5 2450.7C1984.2 2440.4 1988.9 2423.4 1991.6 2417.1C1994.3 2410.9 1999 2405.9 2001.7 2403.7C2004.4 2401.5 2008.2 2399.7 2011.7 2400.3C2015.3 2401 2024.9 2405.1 2028.5 2408.7C2032.1 2412.3 2035.5 2422.7 2038.6 2427.2C2041.7 2431.7 2048.4 2439.8 2052 2442.3C2055.6 2444.7 2061.9 2443.4 2065.4 2445.6C2069 2447.9 2075.3 2456.6 2078.9 2459.1C2082.4 2461.5 2088.7 2462.8 2092.3 2464.1C2095.9 2465.4 2102.1 2466.9 2105.7 2469.1C2109.3 2471.4 2116 2478.2 2119.1 2480.9C2122.3 2483.6 2126.5 2489.5 2129.2 2489.3C2131.9 2489 2136.1 2481.7 2139.3 2479.2C2142.4 2476.7 2149.6 2475.1 2152.7 2470.8C2155.8 2466.6 2160 2452.2 2162.8 2447.3C2165.5 2442.4 2170.8 2437.2 2173.5 2433.9C2176.2 2430.5 2181.6 2423.7 2182.9 2422.1" stroke="#006ee6"/>
<path d="M425 3342.3C448.3 3342.2 556.5 3342.5 600 3341.7C643.5 3341 718.8 3338.1 751 3336.9C783.2 3335.7 821.5 3333.9 841.6 3332.8C861.7 3331.7 887.5 3329.7 901.9 3328.4C916.4 3327.1 938.6 3324.5 950 3323.1C961.4 3321.7 978.6 3319.3 987.5 3317.9C996.5 3316.6 1009.6 3314.3 1017.1 3312.9C1024.6 3311.5 1036.7 3309 1043.9 3307.3C1051 3305.7 1063.5 3302.5 1070.7 3300.5C1077.8 3298.4 1090.3 3294.3 1097.5 3291.8C1104.7 3289.2 1117.5 3284.3 1124.5 3281.5C1131.5 3278.7 1143.1 3273.9 1149.8 3270.9C1156.4 3267.8 1168.9 3261.7 1174.6 3258.6C1180.3 3255.5 1187.5 3251 1192.2 3247.9C1196.8 3244.8 1205.8 3238.1 1209.6 3235.3C1213.3 3232.4 1217.5 3228.8 1220.1 3226.4C1222.8 3223.9 1226.9 3219.8 1229.4 3216.8C1231.9 3213.8 1236.6 3207.8 1239.2 3204C1241.8 3200.2 1246.5 3192.5 1248.9 3188.4C1251.4 3184.3 1255.4 3177.2 1257.7 3173.1C1260.1 3168.9 1264.4 3161 1266.6 3157.1C1268.7 3153.1 1272 3147.2 1274 3143.6C1275.9 3140 1279.1 3134.4 1281.3 3130C1283.6 3125.6 1288.1 3116.9 1290.8 3110.8C1293.6 3104.7 1299.1 3091.3 1301.9 3084.2C1304.7 3077 1309.2 3064.4 1311.7 3057.3C1314.2 3050.1 1318.3 3037 1320.4 3030.5C1322.5 3023.9 1324.5 3017.9 1327.6 3008.1C1330.8 2998.4 1339.6 2972.1 1344.1 2957.6C1348.6 2943 1356.8 2914.5 1361.3 2898.8C1365.7 2883.1 1373.4 2854.9 1377.6 2839.8C1381.8 2824.8 1389.2 2799 1393.1 2786.1C1396.9 2773.2 1403.1 2753.3 1406.4 2743.3C1409.7 2733.3 1414.6 2718.6 1417.7 2710.9C1420.7 2703.2 1426.4 2689.5 1429.5 2685.4C1432.7 2681.3 1438.4 2681.7 1441.3 2680.4C1444.2 2679 1447.8 2678.2 1451.3 2675.3C1454.9 2672.4 1464.1 2662.2 1468.1 2658.6C1472.1 2654.9 1477.5 2649.4 1481.5 2647.8C1485.6 2646.3 1493.8 2646.1 1498.3 2646.8C1502.8 2647.6 1511.5 2651.7 1515.1 2653.5C1518.7 2655.3 1522.3 2658.9 1525.2 2660.2C1528.1 2661.6 1534.2 2664.3 1536.9 2663.6C1539.6 2662.9 1543.3 2657.2 1545.3 2655.2C1547.3 2653.2 1548.9 2651.2 1552 2648.5C1555.1 2645.8 1564.3 2637.3 1568.8 2635.1C1573.3 2632.8 1581.1 2632.2 1585.6 2631.7C1590 2631.2 1598.9 2631.9 1602.3 2631C1605.8 2630.2 1608.4 2628.2 1611.4 2625.2C1614.4 2622.1 1621.7 2613.3 1624.8 2608.4C1628 2603.5 1632.2 2593 1634.9 2588.3C1637.6 2583.6 1642.3 2575.4 1645 2573.2C1647.7 2570.9 1652.3 2570.8 1655 2571.5C1657.7 2572.1 1662.4 2577.1 1665.1 2578.2C1667.8 2579.3 1672.5 2578.5 1675.2 2579.9C1677.9 2581.2 1683.2 2585.6 1685.2 2588.3C1687.2 2590.9 1687.6 2598.4 1690.3 2600C1693 2601.6 1702 2601.1 1705.4 2600C1708.7 2598.9 1713 2592.1 1715.4 2591.6C1717.9 2591.2 1721.1 2597.1 1723.8 2596.6C1726.5 2596.2 1731.8 2589.8 1735.6 2588.3C1739.4 2586.7 1747.9 2585.6 1752.3 2584.9C1756.8 2584.2 1764.7 2583.9 1769.1 2583.2C1773.6 2582.6 1781.4 2581.1 1785.9 2579.9C1790.4 2578.7 1798.2 2575.7 1802.7 2574.2C1807.2 2572.6 1815.7 2568.1 1819.5 2568.1C1823.2 2568.1 1826.8 2573.7 1830.5 2574.2C1834.3 2574.6 1843.7 2573 1847.3 2571.5C1850.9 2570 1854.7 2564.7 1857.4 2563.1C1860.1 2561.5 1864.8 2561.5 1867.4 2559.7C1870.1 2557.9 1874.8 2552.1 1877.5 2549.7C1880.2 2547.2 1884.9 2543.3 1887.6 2541.3C1890.3 2539.3 1895.4 2536.4 1897.7 2534.6C1899.9 2532.8 1902.1 2528.1 1904.4 2527.9C1906.6 2527.6 1911.7 2533.8 1914.4 2532.9C1917.1 2532 1921.8 2525.2 1924.5 2521.1C1927.2 2517.1 1931.9 2506.3 1934.6 2502.7C1937.2 2499.1 1941.9 2496.3 1944.6 2494.3C1947.3 2492.3 1952 2492.1 1954.7 2487.6C1957.4 2483.1 1962.1 2467.4 1964.8 2460.7C1967.4 2454 1972.6 2443.1 1974.8 2437.2C1977.1 2431.4 1979.3 2421.8 1981.5 2417.1C1983.8 2412.4 1988.9 2404.9 1991.6 2402C1994.3 2399.1 1999 2396.8 2001.7 2395.3C2004.4 2393.8 2008.6 2391.2 2011.7 2390.9C2014.9 2390.7 2021.6 2392.7 2025.2 2393.6C2028.7 2394.5 2035 2396.8 2038.6 2397.7C2042.2 2398.5 2048.9 2400.6 2052 2399.7C2055.1 2398.7 2059.2 2393.5 2062.1 2390.3C2065 2387 2071.1 2378.4 2073.8 2375.2C2076.5 2371.9 2079.8 2368.4 2082.2 2365.8C2084.7 2363.2 2089.1 2360.2 2092.3 2355.7C2095.4 2351.2 2102.1 2336.5 2105.7 2332.2C2109.3 2328 2116 2325.4 2119.1 2323.8C2122.3 2322.3 2126.7 2319.1 2129.2 2320.5C2131.7 2321.8 2134.9 2332.6 2137.6 2333.9C2140.3 2335.2 2146 2332.5 2149.3 2330.5C2152.7 2328.6 2159.5 2322.6 2162.8 2319.5C2166 2316.3 2170.8 2310 2173.5 2307C2176.2 2304 2181.6 2298.3 2182.9 2297" stroke="#00b064"/>
</g>
<g id="arrows">
<path d="M1422.3 2696.8L1257.9 3285.2" stroke="#ff00ff" stroke-width="10.3" stroke-dasharray="10 9.5" fill="none"/>
<path d="M1239.3 3351.7L1241.7 3278.7L1275.1 3288Z" fill="#ff00ff"/>
<path d="M1555.4 2759.2L1445.2 3283.8" stroke="#ff00ff" stroke-width="10.3" stroke-dasharray="10 9.5" fill="none"/>
<path d="M1431 3351.3L1428.7 3278.3L1462.5 3285.4Z" fill="#ff00ff"/>
<path d="M1613.1 2558L1517.9 3283.5" stroke="#ff00ff" stroke-width="10.3" stroke-dasharray="10 9.5" fill="none"/>
<path d="M1508.9 3351.9L1501 3279.3L1535.3 3283.8Z" fill="#ff00ff"/>
<path d="M1739 2670L1555.3 3289.2" stroke="#ff00ff" stroke-width="10.3" stroke-dasharray="10 9.5" fill="none"/>
<path d="M1535.7 3355.4L1539.3 3282.4L1572.5 3292.3Z" fill="#ff00ff"/>
</g>
<g font-family='"Liberation Sans", Arial, Helvetica, sans-serif' font-weight="bold" font-size="64" fill="#000">
<g text-anchor="middle">
<text x="433.6" y="3433.3" transform="matrix(1 0 0 1.04 0 -137.332)">2.0</text>
<text x="607.5" y="3433.3" transform="matrix(1 0 0 1.04 0 -137.332)">2.2</text>
<text x="781.5" y="3433.3" transform="matrix(1 0 0 1.04 0 -137.332)">2.4</text>
<text x="955.4" y="3433.3" transform="matrix(1 0 0 1.04 0 -137.332)">2.6</text>
<text x="1129.3" y="3433.3" transform="matrix(1 0 0 1.04 0 -137.332)">2.8</text>
<text x="1303.2" y="3433.3" transform="matrix(1 0 0 1.04 0 -137.332)">3.0</text>
<text x="1477.2" y="3433.3" transform="matrix(1 0 0 1.04 0 -137.332)">3.2</text>
<text x="1651.1" y="3433.3" transform="matrix(1 0 0 1.04 0 -137.332)">3.4</text>
<text x="1825" y="3433.3" transform="matrix(1 0 0 1.04 0 -137.332)">3.6</text>
<text x="1999" y="3433.3" transform="matrix(1 0 0 1.04 0 -137.332)">3.8</text>
<text x="2172.9" y="3433.3" transform="matrix(1 0 0 1.04 0 -137.332)">4.0</text>
</g><g text-anchor="end">
<text x="392.8" y="3362.8" transform="matrix(1 0 0 1.04 0 -134.512)">0</text>
<text x="392.8" y="3097" transform="matrix(1 0 0 1.04 0 -123.88)">300</text>
<text x="392.8" y="2831.2" transform="matrix(1 0 0 1.04 0 -113.248)">600</text>
<text x="392.8" y="2565.4" transform="matrix(1 0 0 1.04 0 -102.616)">900</text>
<text x="392.8" y="2299.6" transform="matrix(1 0 0 1.04 0 -91.984)">1200</text>
<text x="392.8" y="2033.8" transform="matrix(1 0 0 1.04 0 -81.352)">1500</text>
</g></g>
<text x="1302.5" y="3552.2" text-anchor="middle" font-family='"Liberation Sans", Arial, Helvetica, sans-serif' font-weight="bold" font-size="75">hv, eV</text>
<text transform="translate(223 2977.5) rotate(-90) scale(1 1.03)" font-family='"Liberation Sans", Arial, Helvetica, sans-serif' font-weight="bold" font-size="75">(αhv)<tspan dy="-25.2">2</tspan><tspan dy="25.2">, eV</tspan><tspan dy="-25.2">2</tspan><tspan dy="25.2">.cm</tspan><tspan dy="-20" font-weight="normal">-</tspan><tspan dy="-5.2">2</tspan></text>
<g fill="none" stroke-width="12.8" stroke-linecap="round">
<path d="M465.7 2089.3H606.3" stroke="#777777"/>
<path d="M465.7 2184H606.3" stroke="#ff3e3e"/>
<path d="M465.7 2278H606.3" stroke="#006ee6"/>
<path d="M465.7 2372.1H606.3" stroke="#00b064"/>
</g>
<g font-family='"Liberation Sans", Arial, Helvetica, sans-serif' font-weight="bold" font-size="63.5" fill="#000">
<text y="2111.3" transform="matrix(1 0 0 1.04 0 -84.452)"><tspan x="625.5">Pure ZnO, </tspan><tspan x="1017.8">E</tspan><tspan x="1059" dy="16.4" font-size="43" font-weight="normal" stroke="#000" stroke-width="1.4" stroke-linejoin="round">g </tspan><tspan x="1102.5" dy="-16.4">= 3.27 eV</tspan></text>
<text y="2206" transform="matrix(1 0 0 1.04 0 -88.24)"><tspan x="625.2">ZnO:Ag</tspan><tspan x="856.7" dy="16.4" font-size="43" font-weight="normal" stroke="#000" stroke-width="1.4" stroke-linejoin="round">(1.5%)</tspan><tspan x="982.7" dy="-16.4">, </tspan><tspan x="1020.4">E</tspan><tspan x="1061.6" dy="16.4" font-size="43" font-weight="normal" stroke="#000" stroke-width="1.4" stroke-linejoin="round">g </tspan><tspan x="1105.1" dy="-16.4">= 3.22 eV</tspan></text>
<text y="2300.3" transform="matrix(1 0 0 1.04 0 -92.012)"><tspan x="625.2">ZnO:Ag</tspan><tspan x="856.7" dy="16.4" font-size="43" font-weight="normal" stroke="#000" stroke-width="1.4" stroke-linejoin="round">(3.0%)</tspan><tspan x="982.7" dy="-16.4">, </tspan><tspan x="1020.4">E</tspan><tspan x="1061.6" dy="16.4" font-size="43" font-weight="normal" stroke="#000" stroke-width="1.4" stroke-linejoin="round">g </tspan><tspan x="1105.1" dy="-16.4">= 3.14 eV</tspan></text>
<text y="2394.9" transform="matrix(1 0 0 1.04 0 -95.796)"><tspan x="625.2">ZnO:Ag</tspan><tspan x="856.7" dy="16.4" font-size="43" font-weight="normal" stroke="#000" stroke-width="1.4" stroke-linejoin="round">(4.5%)</tspan><tspan x="982.7" dy="-16.4">, </tspan><tspan x="1020.4">E</tspan><tspan x="1061.6" dy="16.4" font-size="43" font-weight="normal" stroke="#000" stroke-width="1.4" stroke-linejoin="round">g </tspan><tspan x="1105.1" dy="-16.4">= 2.93 eV</tspan></text>
</g>
</g>
<g font-family='"Liberation Serif", "Times New Roman", serif' fill="#000"><text y="3740.9" font-size="86.3"><tspan x="1095.8">(</tspan><tspan x="1124.2" dy="0.5" font-size="89.6" font-weight="bold">b</tspan><tspan x="1173.8" dy="-0.5">)</tspan></text></g>
</svg>
</body>
</html>
